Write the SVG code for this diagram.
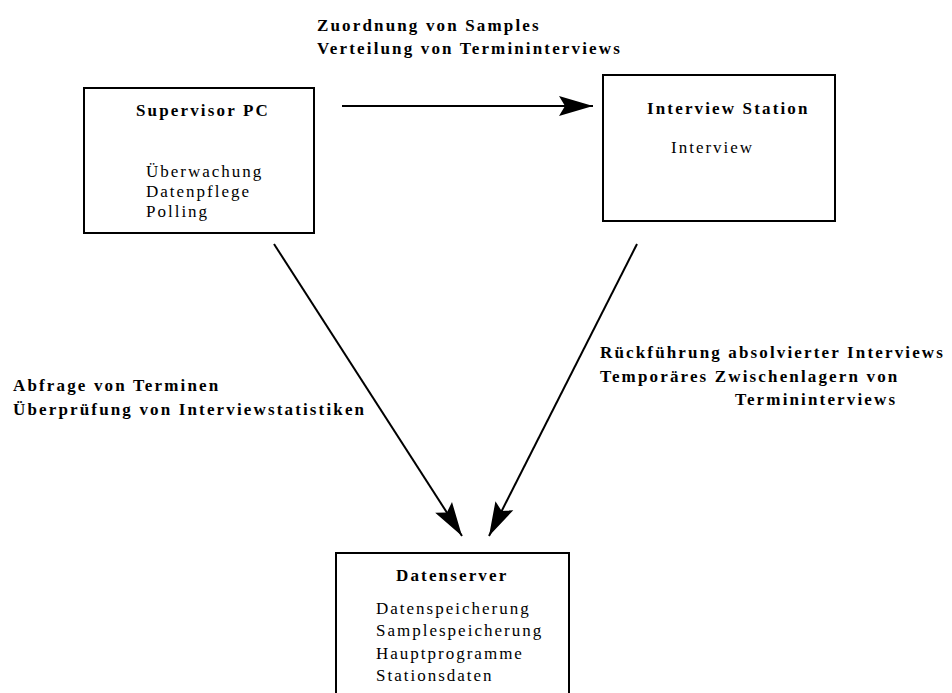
<svg xmlns="http://www.w3.org/2000/svg" width="952" height="693" viewBox="0 0 952 693">
<style>
.box{fill:#fff;stroke:#000;stroke-width:2}
.t{font-family:"Liberation Serif","Times New Roman","DejaVu Serif",serif;font-size:17px;fill:#000;letter-spacing:2px}
.b{font-family:"Liberation Serif","Times New Roman","DejaVu Serif",serif;font-size:17px;font-weight:bold;fill:#000;letter-spacing:2.15px}
.c{stroke:#000;stroke-width:2;fill:none}
.h{fill:#000;stroke:none}
</style>
<defs>
<marker id="ah" markerUnits="userSpaceOnUse" markerWidth="40" markerHeight="30" viewBox="-36 -12 40 24" refX="0" refY="0" orient="auto">
<path class="h" d="M-34,-10 L0,0 L-34,10 L-28,0 Z"/>
</marker>
</defs>
<rect width="952" height="693" fill="#fff"/>
<g id="supervisor">
<rect class="box" x="84" y="88" width="230" height="145"/>
<text class="b" x="136" y="116">Supervisor PC</text>
<text class="t" x="146" y="177">Überwachung</text>
<text class="t" x="146" y="197">Datenpflege</text>
<text class="t" x="146" y="217">Polling</text>
</g>
<g id="interview">
<rect class="box" x="603" y="75" width="232" height="146"/>
<text class="b" x="647" y="114">Interview Station</text>
<text class="t" x="671" y="153">Interview</text>
</g>
<g id="datenserver">
<rect class="box" x="336" y="553" width="233" height="150"/>
<text class="b" x="396" y="581">Datenserver</text>
<text class="t" x="376" y="614">Datenspeicherung</text>
<text class="t" x="376" y="636">Samplespeicherung</text>
<text class="t" x="376" y="659">Hauptprogramme</text>
<text class="t" x="376" y="681">Stationsdaten</text>
</g>
<g id="connectors">
<line class="c" x1="342" y1="106" x2="593" y2="106" marker-end="url(#ah)"/>
<line class="c" x1="274" y1="244" x2="462" y2="536" marker-end="url(#ah)"/>
<line class="c" x1="637" y1="244" x2="489" y2="536" marker-end="url(#ah)"/>
</g>
<g id="labels">
<text class="b" x="317" y="31">Zuordnung von Samples</text>
<text class="b" x="317" y="54">Verteilung von Termininterviews</text>
<text class="b" x="13" y="391">Abfrage von Terminen</text>
<text class="b" x="13" y="415">Überprüfung von Interviewstatistiken</text>
<text class="b" x="600" y="358">Rückführung absolvierter Interviews</text>
<text class="b" x="600" y="382">Temporäres Zwischenlagern von</text>
<text class="b" x="735" y="405">Termininterviews</text>
</g>
</svg>
